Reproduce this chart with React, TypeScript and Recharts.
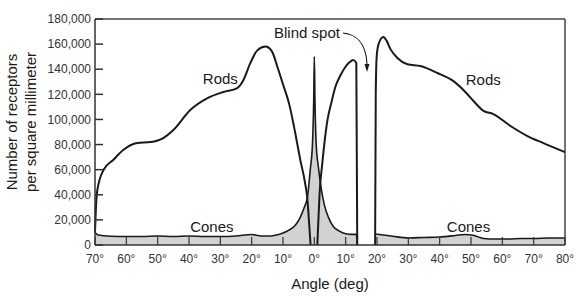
import {
  ComposedChart, Line, Area, XAxis, YAxis, ReferenceLine, ReferenceDot,
} from "recharts";

const FONT = "'Liberation Sans', Arial, Helvetica, sans-serif";
const INK = "#1a1a1a";
const FILL = "#8f8f8f";

const X_TICKS = [-70, -60, -50, -40, -30, -20, -10, 0, 10, 20, 30, 40, 50, 60, 70, 80];
const Y_TICKS = [0, 20000, 40000, 60000, 80000, 100000, 120000, 140000, 160000, 180000];

// rods, temporal side up to the fovea
const rodsTemporalAngle = [-70, -69.7, -69.3, -67.3, -64.2, -61, -56.5, -52.3, -48.2, -45, -39.6, -34.1, -29, -24.6, -22.7, -20.4, -18.2, -15.6, -13.5, -11.8, -10, -8, -6, -4.5, -3, -2.2, -1.6, -1.2];
const rodsTemporal = [10000, 30000, 43000, 59700, 67700, 75700, 81200, 82000, 85200, 91600, 107500, 117000, 121900, 125000, 131000, 145000, 155000, 158000, 154000, 142000, 128000, 112000, 88000, 68000, 50000, 36000, 15000, 0];

// rods, fovea to blind spot
const rodsFovealAngle = [0.95, 1.3, 1.7, 2.5, 3.3, 4.2, 5.5, 6.7, 8.3, 9.9, 11.2, 12.4, 13.4, 13.7];
const rodsFoveal = [0, 20000, 42000, 64000, 83000, 99600, 114000, 125800, 135000, 141800, 145500, 147400, 145000, 0];

// rods, nasal side past the blind spot
const rodsNasalAngle = [19.4, 19.6, 19.9, 20.5, 22, 23, 24.3, 26.5, 29.7, 33.8, 39.3, 44.4, 48.8, 50.8, 54, 57.1, 62.6, 68, 73.1, 80];
const rodsNasal = [0, 120000, 150000, 160000, 165700, 163000, 156000, 149000, 144000, 142500, 137000, 130500, 120300, 114700, 106800, 104300, 94800, 86800, 81200, 74000];

// cones, temporal side through the fovea
const conesMainAngle = [-70, -69, -65, -60, -55, -50, -45, -40, -35, -30, -25, -20, -17, -14, -12, -10, -8, -6, -4.5, -3.2, -2.2, -1.3, -0.6, -0.2, 0, 0.2, 0.6, 1.3, 2.2, 3.2, 4.5, 6, 8, 10, 12, 13.4, 13.7];
const conesMain = [10000, 8000, 7000, 6800, 6800, 7200, 6800, 7200, 6800, 6800, 7200, 8400, 7200, 7200, 8000, 9500, 12000, 16000, 22000, 30000, 38000, 60000, 80000, 115000, 150000, 115000, 80000, 62000, 45000, 32000, 22000, 15000, 11000, 9000, 8500, 8500, 0];

// cones, nasal side
const conesNasalAngle = [19.5, 22, 25, 30, 35, 40, 45, 48, 51, 54, 58, 62, 66, 70, 75, 80];
const conesNasal = [8800, 8000, 7000, 5600, 6000, 6400, 7600, 8400, 7600, 5200, 4800, 4800, 5200, 5200, 5600, 5600];

const toSeries = (angles: number[], values: number[]) =>
  angles.map((angle, i) => ({ angle, density: values[i] }));

const fmtY = (v: number) => (v === 0 ? "0" : v.toLocaleString("en-US"));
const fmtX = (v: number) => `${Math.abs(v)}°`;

const textLabel = (text: string) => ({ viewBox }: any) => (
  <text
    x={viewBox.x + viewBox.width / 2}
    y={viewBox.y + viewBox.height / 2}
    textAnchor="middle"
    dominantBaseline="central"
    fontFamily={FONT}
    fontSize={15}
    fill={INK}
  >
    {text}
  </text>
);

const blindSpotLabel = ({ viewBox }: any) => {
  const x = viewBox.x;
  const y = viewBox.y;
  return (
    <g>
      <text x={x - 60} y={y - 39} textAnchor="middle" dominantBaseline="central"
        fontFamily={FONT} fontSize={15} fill={INK}>
        Blind spot
      </text>
      <path d={`M ${x - 24} ${y - 39} C ${x - 12} ${y - 38} ${x - 1} ${y - 30} ${x} ${y - 8}`}
        fill="none" stroke={INK} strokeWidth={1.1} />
      <path d={`M ${x - 2.5} ${y - 8} L ${x + 2.5} ${y - 8} L ${x} ${y} Z`} fill={INK} />
    </g>
  );
};

export default function App() {
  return (
    <div style={{ position: "absolute", left: 0, top: 0, background: "#fff" }}>
      <ComposedChart width={579} height={296} margin={{ top: 19, right: 14, left: 35, bottom: 21 }}>
        <XAxis
          type="number"
          dataKey="angle"
          domain={[-70, 80]}
          ticks={X_TICKS}
          tickFormatter={fmtX}
          tickSize={-8}
          tickMargin={17}
          height={30}
          allowDuplicatedCategory={false}
          axisLine={{ stroke: "#333", strokeWidth: 1.5 }}
          tickLine={{ stroke: "#333", strokeWidth: 1.2 }}
          tick={{ fontSize: 12, fill: "#333", fontFamily: FONT }}
          label={({ viewBox }: any) => (
            <text x={viewBox.x + viewBox.width / 2} y={viewBox.y + 38} textAnchor="middle"
              dominantBaseline="central" fontFamily={FONT} fontSize={15} fill={INK}>
              Angle (deg)
            </text>
          )}
        />
        <YAxis
          type="number"
          domain={[0, 180000]}
          ticks={Y_TICKS}
          tickFormatter={fmtY}
          width={60}
          tickSize={-8}
          tickMargin={12}
          axisLine={{ stroke: "#333", strokeWidth: 1.5 }}
          tickLine={{ stroke: "#333", strokeWidth: 1.5 }}
          tick={{ fontSize: 12, fill: "#333", fontFamily: FONT }}
          label={({ viewBox }: any) => {
            const cy = viewBox.y + viewBox.height / 2 - 10;
            return (
              <g fontFamily={FONT} fontSize={15} fill={INK}>
                <text x={viewBox.x - 24} y={cy} textAnchor="middle" dominantBaseline="central"
                  transform={`rotate(-90 ${viewBox.x - 24} ${cy})`}>Number of receptors</text>
                <text x={viewBox.x - 5} y={cy} textAnchor="middle" dominantBaseline="central"
                  transform={`rotate(-90 ${viewBox.x - 5} ${cy})`}>per square millimeter</text>
              </g>
            );
          }}
        />
        <ReferenceLine y={180000} stroke="#444" strokeWidth={1.5} />
        <ReferenceLine x={80} stroke="#444" strokeWidth={1.5} />

        <Area data={toSeries(conesMainAngle, conesMain)} dataKey="density" type="monotone"
          stroke={INK} strokeWidth={1.6} fill={FILL} fillOpacity={0.4} isAnimationActive={false} />
        <Area data={toSeries(conesNasalAngle, conesNasal)} dataKey="density" type="monotone"
          stroke={INK} strokeWidth={1.6} fill={FILL} fillOpacity={0.4} isAnimationActive={false} />

        <Line data={toSeries(rodsTemporalAngle, rodsTemporal)} dataKey="density" type="monotone"
          stroke={INK} strokeWidth={2} dot={false} activeDot={false} isAnimationActive={false} />
        <Line data={toSeries(rodsFovealAngle, rodsFoveal)} dataKey="density" type="monotone"
          stroke={INK} strokeWidth={2} dot={false} activeDot={false} isAnimationActive={false} />
        <Line data={toSeries(rodsNasalAngle, rodsNasal)} dataKey="density" type="monotone"
          stroke={INK} strokeWidth={2} dot={false} activeDot={false} isAnimationActive={false} />

        <ReferenceDot x={-30} y={133000} r={0} fill="none" stroke="none" label={textLabel("Rods")} />
        <ReferenceDot x={53.9} y={132200} r={0} fill="none" stroke="none" label={textLabel("Rods")} />
        <ReferenceDot x={-32.7} y={15100} r={0} fill="none" stroke="none" label={textLabel("Cones")} />
        <ReferenceDot x={49.2} y={15100} r={0} fill="none" stroke="none" label={textLabel("Cones")} />
        <ReferenceDot x={16.8} y={137800} r={0} fill="none" stroke="none" label={blindSpotLabel} />
      </ComposedChart>
    </div>
  );
}
